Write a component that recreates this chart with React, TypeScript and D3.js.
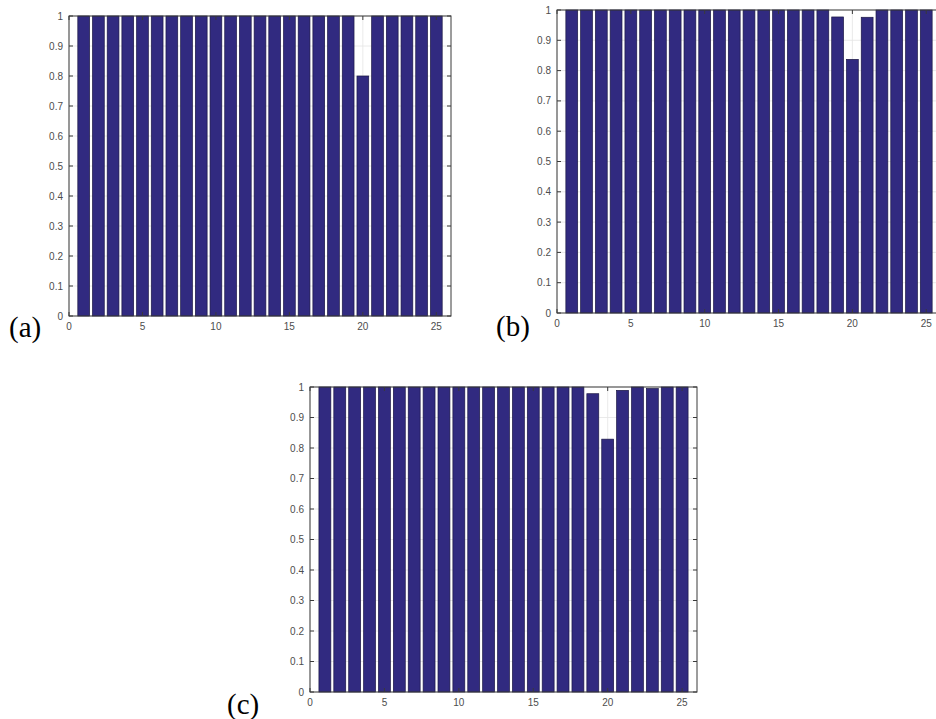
import React, { useEffect, useRef } from "react";
import * as d3 from "d3";

const categories = [1, 2, 3, 4, 5, 6, 7, 8, 9, 10, 11, 12, 13, 14, 15, 16, 17, 18, 19, 20, 21, 22, 23, 24, 25];
const seriesA = [1, 1, 1, 1, 1, 1, 1, 1, 1, 1, 1, 1, 1, 1, 1, 1, 1, 1, 1, 0.8, 1, 1, 1, 1, 1];
const seriesB = [1, 1, 1, 1, 1, 1, 1, 1, 1, 1, 1, 1, 1, 1, 1, 1, 1, 1, 0.977, 0.837, 0.976, 1, 1, 1, 1];
const seriesC = [1, 1, 1, 1, 1, 1, 1, 1, 1, 1, 1, 1, 1, 1, 1, 1, 1, 1, 0.978, 0.829, 0.989, 1, 0.995, 1, 1];
const xTicks = [0, 5, 10, 15, 20, 25];
const yTicks = [0, 0.1, 0.2, 0.3, 0.4, 0.5, 0.6, 0.7, 0.8, 0.9, 1];

const panels = [
  { tag: "(a)", values: seriesA, left: 69, right: 451, top: 16, bottom: 316, lx: 9, ly: 337 },
  { tag: "(b)", values: seriesB, left: 557, right: 941, top: 10, bottom: 313, lx: 496, ly: 336 },
  { tag: "(c)", values: seriesC, left: 310, right: 697, top: 387, bottom: 692, lx: 227, ly: 714 },
];

function App() {
  const canvas = useRef<SVGSVGElement>(null);

  useEffect(() => {
    const svg = d3.select(canvas.current);
    svg.selectAll("*").remove();

    panels.forEach((p) => {
      const x = d3.scaleLinear().domain([0, 26]).range([p.left, p.right]);
      const y = d3.scaleLinear().domain([0, 1]).range([p.bottom, p.top]);
      const g = svg.append("g");

      // grid
      g.selectAll("line.gy")
        .data(yTicks)
        .enter()
        .append("line")
        .attr("x1", p.left)
        .attr("x2", p.right)
        .attr("y1", (d) => y(d))
        .attr("y2", (d) => y(d))
        .attr("stroke", "#e4e4e4")
        .attr("stroke-width", 0.8);
      g.selectAll("line.gx")
        .data(xTicks)
        .enter()
        .append("line")
        .attr("x1", (d) => x(d))
        .attr("x2", (d) => x(d))
        .attr("y1", p.top)
        .attr("y2", p.bottom)
        .attr("stroke", "#e4e4e4")
        .attr("stroke-width", 0.8);

      const bw = x(0.8) - x(0);
      g.selectAll("rect.bar")
        .data(p.values)
        .enter()
        .append("rect")
        .attr("x", (d, i) => x(categories[i]) - bw / 2)
        .attr("width", bw)
        .attr("y", (d) => y(d))
        .attr("height", (d) => y(0) - y(d))
        .attr("fill", "#312a80")
        .attr("stroke", "#1c1845")
        .attr("stroke-width", 0.7);

      // box
      g.append("rect")
        .attr("x", p.left)
        .attr("y", p.top)
        .attr("width", p.right - p.left)
        .attr("height", p.bottom - p.top)
        .attr("fill", "none")
        .attr("stroke", "#3a3a3a")
        .attr("stroke-width", 1);

      // inward ticks
      const tl = 4;
      yTicks.forEach((t) => {
        g.append("line").attr("x1", p.left).attr("x2", p.left + tl).attr("y1", y(t)).attr("y2", y(t)).attr("stroke", "#3a3a3a");
        g.append("line").attr("x1", p.right).attr("x2", p.right - tl).attr("y1", y(t)).attr("y2", y(t)).attr("stroke", "#3a3a3a");
      });
      xTicks.forEach((t) => {
        g.append("line").attr("x1", x(t)).attr("x2", x(t)).attr("y1", p.bottom).attr("y2", p.bottom - tl).attr("stroke", "#3a3a3a");
        g.append("line").attr("x1", x(t)).attr("x2", x(t)).attr("y1", p.top).attr("y2", p.top + tl).attr("stroke", "#3a3a3a");
      });

      g.selectAll("text.yl")
        .data(yTicks)
        .enter()
        .append("text")
        .attr("x", p.left - 6)
        .attr("y", (d) => y(d))
        .attr("dy", "0.35em")
        .attr("text-anchor", "end")
        .attr("font-family", "Liberation Sans, Arial, sans-serif")
        .attr("font-size", 10)
        .attr("fill", "#4d4d4d")
        .text((d) => d3.format("~g")(d));

      g.selectAll("text.xl")
        .data(xTicks)
        .enter()
        .append("text")
        .attr("x", (d) => x(d))
        .attr("y", p.bottom + 14)
        .attr("text-anchor", "middle")
        .attr("font-family", "Liberation Sans, Arial, sans-serif")
        .attr("font-size", 10)
        .attr("fill", "#4d4d4d")
        .text((d) => d);

      g.append("text")
        .attr("x", p.lx)
        .attr("y", p.ly)
        .attr("font-family", "Liberation Serif, Times New Roman, serif")
        .attr("font-size", 29)
        .attr("fill", "#000")
        .text(p.tag);
    });
  });

  return (
    <div style={{ position: "absolute", left: 0, top: 0 }}>
      <svg ref={canvas} width={936} height={719} style={{ display: "block", background: "#fff" }}></svg>
    </div>
  );
}

export default App;
